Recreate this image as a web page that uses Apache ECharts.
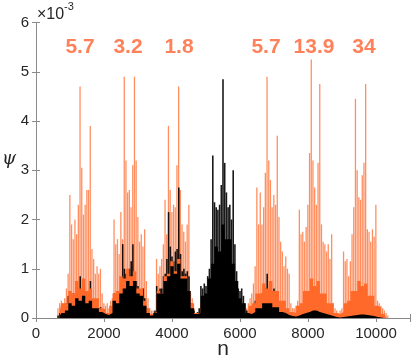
<!DOCTYPE html>
<html>
<head>
<meta charset="utf-8">
<script src="https://cdn.jsdelivr.net/npm/echarts@6/dist/echarts.min.js"></script>
<style>
html,body{margin:0;padding:0;background:#fff;}
#chart{width:415px;height:360px;}
</style>
</head>
<body>
<div id="chart"></div>
<script>
// ---- data (psi in units of 1e-3) ----
const spikeStart = 650, spikeStep = 50;   // sampling grid of spike arrays (n)
const baseStart = 700, baseStep = 100;    // sampling grid of dense-fill arrays (n)

const orangeSpikes = [
  0.2,0.3,0.35,0.3,0.4,0.6,0.9,2.5,1.9,1.6,
  2.0,1.7,2.3,4.7,3.05,2.1,2.3,2.6,2.6,3.9,
  1.4,1.2,0.9,1.05,0.9,1.0,0.5,0.3,0.25,0.3,
  0.2,0.35,0.4,2.0,1.5,1.6,1.3,2.15,1.6,4.9,
  3.2,2.55,2.6,2.25,3.1,4.9,3.2,2.05,1.55,1.7,
  1.45,1.8,0.75,0.4,0.2,0.15,0.15,0.12,1.2,0.9,
  1.05,1.2,1.5,2.4,1.7,3.9,2.6,2.15,2.3,2.25,
  3.1,4.7,2.6,1.9,1.75,1.55,1.9,2.3,0.5,0.4,
  0.2,0.1,0.1,0.1,0.3,0.3,0.4,0.3,0.5,0.6,
  0.8,1.0,0.9,0.9,1.0,1.2,1.1,1.3,1.2,1.0,
  1.0,0.9,1.0,0.8,0.6,0.4,0.3,0.3,0.3,0.3,
  0.2,0.2,0.3,0.4,0.5,0.7,1.05,2.65,1.9,2.55,
  1.9,2.25,2.95,4.9,3.2,2.8,2.25,2.5,2.3,3.7,
  2.05,1.55,1.35,1.05,1.25,1.0,0.9,0.3,0.2,0.2,
  0.25,0.35,2.2,1.7,1.75,1.55,1.85,2.3,3.35,5.25,
  3.2,2.65,2.3,3.15,4.75,1.9,1.55,1.5,1.35,1.5,
  1.2,1.7,0.3,0.2,0.15,0.1,0.15,0.2,1.35,1.15,
  1.2,0.85,1.15,1.7,2.25,4.45,3.0,2.45,2.4,2.9,
  3.15,4.75,1.8,1.75,1.55,1.8,1.65,2.3,0.35,0.3,
  0.25,0.2,0.15,0.1,0.05
];

const blackSpikes = [
  0.05,0.1,0.1,0.12,0.15,0.3,0.45,0.35,0.4,0.5,
  0.35,0.55,0.45,0.85,0.55,0.6,0.4,0.45,0.5,0.75,
  0.35,0.3,0.25,0.25,0.2,0.22,0.12,0.1,0.08,0.1,
  0.08,0.1,0.2,0.5,0.45,0.5,0.55,0.75,1.5,1.0,
  0.9,0.85,1.0,1.15,1.5,0.9,0.75,0.65,0.55,0.5,
  0.6,0.4,0.2,0.1,0.08,0.08,0.06,0.15,0.65,0.55,
  0.6,0.6,0.85,0.9,1.2,2.15,1.45,1.25,1.15,1.35,
  1.4,2.65,1.3,0.95,1.0,0.9,0.95,0.85,0.3,0.25,
  0.15,0.08,0.12,0.2,0.65,0.6,0.7,0.65,0.85,1.0,
  1.6,3.3,2.35,2.25,2.2,2.3,2.7,4.85,3.15,2.55,
  2.25,2.3,2.0,3.0,1.5,0.95,0.6,0.55,0.6,0.45,
  0.3,0.15,0.1,0.1,0.15,0.2,0.35,0.45,0.35,0.4,
  0.5,0.55,0.6,0.9,0.55,0.45,0.4,0.6,0.45,0.5,
  0.3,0.25,0.2,0.15,0.12,0.1,0.08,0.05,0.04,0.04,
  0.05,0.08,0.12,0.15,0.18,0.2,0.22,0.25,0.3,0.4,
  0.3,0.25,0.3,0.35,0.4,0.25,0.2,0.18,0.15,0.12,
  0.1,0.08,0.06,0.04,0.03,0.02,0.03,0.05,0.06,0.08,
  0.08,0.1,0.1,0.12,0.1,0.12,0.12,0.15,0.12,0.13,
  0.12,0.15,0.12,0.1,0.1,0.08,0.06,0.04,0.02,0.02,
  0.01,0.01,0,0,0
];

const orangeBase = [
  0.15,0.3,0.3,0.55,0.5,0.75,0.6,0.8,0.55,0.6,
  0.4,0.4,0.2,0.18,0.1,0.25,0.5,0.55,0.85,0.8,
  1.0,0.85,0.95,0.6,0.6,0.35,0.2,0.08,0.12,0.55,
  0.5,0.85,0.9,1.15,0.95,1.2,0.85,0.85,0.55,0.3,
  0.1,0.1,0.3,0.4,0.5,0.6,0.7,0.8,0.9,0.85,
  0.7,0.6,0.4,0.3,0.2,0.1,0.25,0.3,0.5,0.5,
  0.7,0.6,0.75,0.55,0.55,0.35,0.35,0.2,0.12,0.1,
  0.25,0.3,0.55,0.55,0.8,0.65,0.75,0.5,0.5,0.3,
  0.3,0.1,0.08,0.12,0.3,0.35,0.55,0.55,0.75,0.65,
  0.7,0.45,0.45,0.25,0.22,0.08,0.05
];

const blackBase = [
  0.05,0.1,0.15,0.3,0.25,0.4,0.35,0.45,0.3,0.35,
  0.2,0.2,0.12,0.08,0.06,0.1,0.35,0.3,0.5,0.6,
  0.75,0.65,0.75,0.5,0.45,0.25,0.1,0.05,0.1,0.5,
  0.5,0.75,0.85,1.05,0.9,1.1,0.8,0.8,0.55,0.2,
  0.08,0.1,0.45,0.5,0.8,1.1,1.45,1.35,1.9,1.6,
  1.6,1.1,0.75,0.4,0.3,0.1,0.08,0.12,0.2,0.2,
  0.3,0.3,0.3,0.22,0.22,0.12,0.1,0.06,0.04,0.03,
  0.05,0.08,0.1,0.12,0.15,0.15,0.12,0.1,0.08,0.06,
  0.04,0.02,0.01,0.02,0.03,0.04,0.05,0.06,0.07,0.07,
  0.06,0.05,0.04,0.02,0.01,0,0
];

const xTickValues = [0, 2000, 4000, 6000, 8000, 10000];
const yTickValues = [0, 1, 2, 3, 4, 5, 6];

const annotX = [1294, 2706, 4206, 6765, 8176, 9647];
const annotY = [5.5, 5.5, 5.5, 5.5, 5.5, 5.5];
const annotText = ['5.7', '3.2', '1.8', '5.7', '13.9', '34'];

// ---- build ----
const toPairs = (arr, start, step) => arr.map((v, i) => [start + i * step, v]);

const ORANGE = '#FF6A2B';
const AXIS = '#8a8a8a';
const TXT = '#262626';
const FONT = '"Liberation Sans", Arial, Helvetica, sans-serif';

const chart = echarts.init(document.getElementById('chart'), null, {renderer: 'canvas'});

const axisCommon = {
  axisLine: {show: true, lineStyle: {color: AXIS, width: 1}},
  axisTick: {show: true, inside: true, length: 4, lineStyle: {color: AXIS}},
  splitLine: {show: false}
};

chart.setOption({
  animation: false,
  backgroundColor: '#fff',
  grid: {left: 36, right: 5, top: 22.5, bottom: 42, containLabel: false, outerBoundsMode: 'none'},
  xAxis: [
    Object.assign({
      type: 'value', min: xTickValues[0], max: 11000, interval: 2000,
      position: 'bottom',
      name: 'n', nameLocation: 'middle', nameGap: 21, nameMoveOverlap: false,
      nameTextStyle: {fontFamily: FONT, fontSize: 21, color: TXT, verticalAlign: 'top', lineHeight: 21},
      axisLabel: {
        show: true, margin: 8, fontFamily: FONT, fontSize: 15, color: TXT,
        formatter: v => xTickValues.indexOf(v) >= 0 ? String(v) : ''
      }
    }, axisCommon),
    Object.assign({
      type: 'value', min: xTickValues[0], max: 11000, interval: 2000,
      position: 'top', axisLabel: {show: false}
    }, axisCommon)
  ],
  yAxis: [
    Object.assign({
      type: 'value', min: yTickValues[0], max: 6, interval: 1,
      position: 'left',
      axisLabel: {
        show: true, margin: 7, fontFamily: FONT, fontSize: 15, color: TXT,
        formatter: v => yTickValues.indexOf(v) >= 0 ? String(v) : ''
      }
    }, axisCommon),
    Object.assign({
      type: 'value', min: yTickValues[0], max: 6, interval: 1,
      position: 'right', axisLabel: {show: false}
    }, axisCommon)
  ],
  graphic: [
    {
      type: 'text', left: 37, top: 7,
      style: {text: '×10', fontFamily: FONT, fontSize: 16, fill: TXT}
    },
    {
      type: 'text', left: 64, top: 1,
      style: {text: '-3', fontFamily: FONT, fontSize: 11, fill: TXT}
    },
    {
      type: 'text', left: 2, top: 150,
      style: {text: 'ψ', fontFamily: '"DejaVu Serif", serif', fontStyle: 'italic', fontSize: 18, fill: TXT}
    }
  ],
  series: [
    {
      type: 'line', name: 'orange fill', data: toPairs(orangeBase, baseStart, baseStep),
      step: 'middle', symbol: 'none', lineStyle: {width: 0},
      areaStyle: {color: ORANGE, opacity: 1}, silent: true
    },
    {
      type: 'bar', name: 'orange', data: toPairs(orangeSpikes, spikeStart, spikeStep),
      barWidth: 1.3, barGap: '-100%', itemStyle: {color: ORANGE, opacity: 0.75}, silent: true
    },
    {
      type: 'line', name: 'black fill', data: toPairs(blackBase, baseStart, baseStep),
      step: 'middle', symbol: 'none', lineStyle: {width: 0},
      areaStyle: {color: '#000', opacity: 1}, silent: true
    },
    {
      type: 'bar', name: 'black', data: toPairs(blackSpikes, spikeStart, spikeStep),
      barWidth: 1.6, barGap: '-100%', itemStyle: {color: '#000', opacity: 0.9}, silent: true
    },
    {
      type: 'scatter', name: 'labels',
      data: annotX.map((x, i) => [x, annotY[i]]),
      symbolSize: 0, silent: true,
      label: {
        show: true, position: 'inside', align: 'center', verticalAlign: 'middle',
        fontFamily: FONT, fontWeight: 'bold', fontSize: 21, color: '#FF6231',
        formatter: p => annotText[p.dataIndex]
      }
    }
  ]
});
</script>
</body>
</html>
